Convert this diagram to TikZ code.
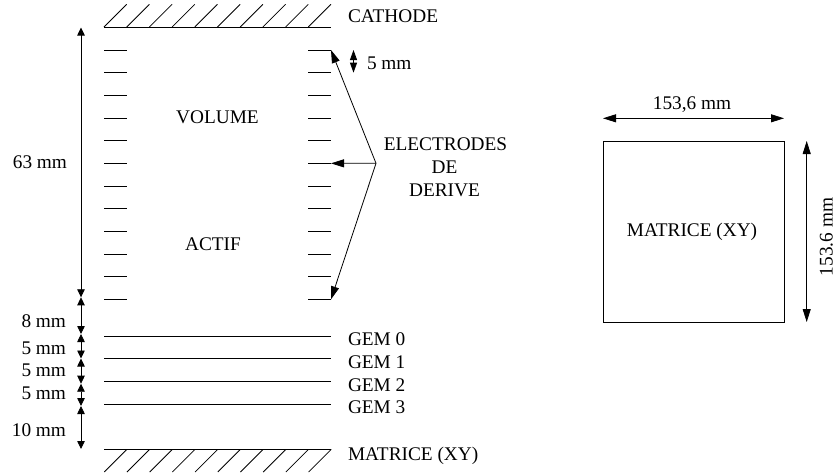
\documentclass[tikz,border=0pt]{standalone}
\usepackage{fontspec}
\setmainfont{Liberation Serif}
\usetikzlibrary{arrows.meta}
\tikzset{
  x=1pt,y=-1pt,
  every path/.style={line width=0.8pt,black},
  lbl/.style={anchor=base,inner sep=0pt,outer sep=0pt,font=\fontsize{19.3pt}{22pt}\selectfont},
  lblw/.style={lbl,anchor=base west},
  lble/.style={lbl,anchor=base east},
  bigtip/.style={-{Triangle[length=13pt,width=8pt]}},
  bigdbl/.style={{Triangle[length=13pt,width=8pt]}-{Triangle[length=13pt,width=8pt]}},
  smalldbl/.style={{Triangle[length=8pt,width=7.5pt]}-{Triangle[length=8pt,width=7.5pt]}},
  pitchdbl/.style={{Triangle[length=10pt,width=7pt]}-{Triangle[length=10pt,width=7pt]}},
}
\begin{document}
\begin{tikzpicture}
\useasboundingbox (0,0) rectangle (835,475);
% cathode and matrix planes
\coordinate (catL) at (104,27); \coordinate (catR) at (331,27);
\coordinate (matL) at (104,449.3); \coordinate (matR) at (331,449.3);
\draw (catL) -- (catR);
\draw (matL) -- (matR);
\foreach \i in {0,...,9}{
  \coordinate (ch\i) at (104+22.7*\i,27);
  \draw (ch\i) -- ++(22.7,-22.7);
  \coordinate (mh\i) at (127+22.7*\i,449.3);
  \draw (mh\i) -- ++(-22.7,22.7);
}
% drift electrodes
\foreach \i in {0,...,11}{
  \coordinate (ela\i) at (104,50+22.67*\i);
  \coordinate (elb\i) at (127,50+22.67*\i);
  \coordinate (erb\i) at (308,50+22.67*\i);
  \coordinate (era\i) at (331,50+22.67*\i);
  \draw (ela\i) -- (elb\i);
  \draw (erb\i) -- (era\i);
}
% GEM foils
\foreach \i/\y in {0/336,1/358.7,2/381.3,3/404}{
  \coordinate (gl\i) at (104,\y);
  \coordinate (gr\i) at (331,\y);
  \draw (gl\i) -- (gr\i);
}
% left dimension chain
\coordinate (d0) at (81,27.5);
\coordinate (d1) at (81,297.3);
\coordinate (d2) at (81,334);
\coordinate (d3) at (81,358.5);
\coordinate (d4) at (81,383.7);
\coordinate (d5) at (81,406);
\coordinate (d6) at (81,449);
\draw[smalldbl] (d0) -- (d1);
\draw[smalldbl] (d1) -- (d2);
\draw[smalldbl] (d2) -- (d3);
\draw[smalldbl] (d3) -- (d4);
\draw[smalldbl] (d4) -- (d5);
\draw[smalldbl] (d5) -- (d6);
% pitch
\coordinate (p0) at (353.5,50); \coordinate (p1) at (353.5,72.7);
\draw[pitchdbl] (p0) -- (p1);
% electrode pointers
\coordinate (hub) at (376,163.3);
\draw[bigtip] (hub) -- (era0);
\draw[bigtip] (hub) -- (era5);
\draw[bigtip] (hub) -- (era11);
% matrix square
\node[draw,minimum width=181.6pt,minimum height=181.3pt,inner sep=0pt,anchor=north west] (sq) at (602.7,141) {};
\node[lbl] (sqt) at (692,236) {MATRICE (XY)};
\coordinate (wL) at (603,118.3); \coordinate (wR) at (784,118.3);
\draw[bigdbl] (wL) -- (wR);
\coordinate (hT) at (806.7,141); \coordinate (hB) at (806.7,322);
\draw[bigdbl] (hT) -- (hB);
% labels
\node[lblw] (tcat) at (348,22.7) {CATHODE};
\node[lblw] (tpitch) at (367,69) {5 mm};
\node[lbl] (tvol) at (217.5,123.3) {VOLUME};
\node[lbl] (tact) at (213,250) {ACTIF};
\node[lbl] (te1) at (445.5,150) {ELECTRODES};
\node[lbl] (te2) at (444.5,173) {DE};
\node[lbl] (te3) at (444.5,196) {DERIVE};
\node[lble] (t63) at (67,168) {63 mm};
\node[lble] (t8) at (66,327.3) {8 mm};
\node[lble] (t5a) at (66,354) {5 mm};
\node[lble] (t5b) at (66,376.7) {5 mm};
\node[lble] (t5c) at (66,399.3) {5 mm};
\node[lble] (t10) at (66,436) {10 mm};
\node[lblw] (tg0) at (348,345.7) {GEM 0};
\node[lblw] (tg1) at (348,368.3) {GEM 1};
\node[lblw] (tg2) at (348,391) {GEM 2};
\node[lblw] (tg3) at (348,413.3) {GEM 3};
\node[lblw] (tmat) at (348,460) {MATRICE (XY)};
\node[lbl] (twd) at (692,109) {153,6 mm};
\node[lbl,rotate=90] (thg) at (832.5,237) {153.6 mm};
\end{tikzpicture}
\end{document}
